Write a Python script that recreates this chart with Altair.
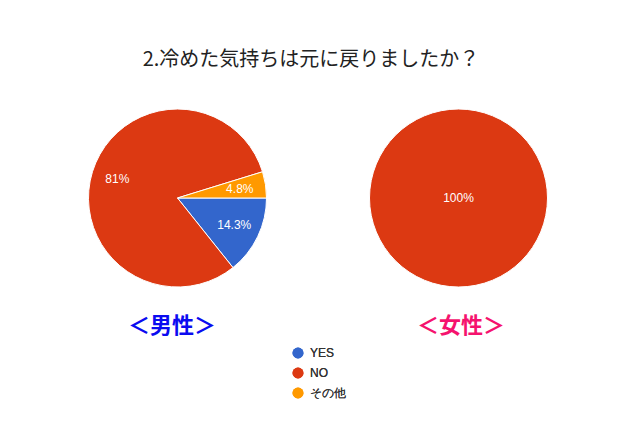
import math
import altair as alt
import pandas as pd

title_text = "2.冷めた気持ちは元に戻りましたか？"
categories = ["YES", "NO", "その他"]
colors = ["#3366CC", "#DC3912", "#FF9900"]
male_counts = [3, 17, 1]
female_counts = [0, 21, 0]
male_labels = ["14.3%", "81%", "4.8%"]
female_labels = ["", "100%", ""]
group_names = ["＜男性＞", "＜女性＞"]
group_colors = ["#0B0BF0", "#F5136E"]

rows = []
for gi, (counts, labels) in enumerate([(male_counts, male_labels), (female_counts, female_labels)]):
    total = sum(counts)
    for i, c in enumerate(categories):
        if counts[i] > 0:
            rows.append({"group": gi, "category": c, "order": i,
                         "frac": counts[i] / total, "label": labels[i]})
df = pd.DataFrame(rows)

FONT = "Liberation Sans"
JFONT = "Noto Sans CJK JP"
R = 89
centers = [(169.5, 190), (450.5, 190)]

theta_scale = alt.Scale(domain=[0, 1], range=[math.pi / 2, math.pi / 2 + 2 * math.pi])
color_enc = alt.Color(
    "category:N",
    scale=alt.Scale(domain=categories, range=colors),
    sort=categories,
    legend=alt.Legend(
        title=None, orient="none", legendX=284, legendY=339,
        symbolType="circle", symbolSize=120, symbolStrokeWidth=0,
        labelFont=FONT, labelFontSize=12, labelFontWeight=400,
        labelColor="#333333", rowPadding=8, labelOffset=6, padding=0,
    ),
)

base = alt.Chart(df)
layers = []
for gi in range(2):
    cx, cy = centers[gi]
    sub = base.transform_filter(alt.datum.group == gi)
    layers.append(
        sub.mark_arc(outerRadius=R, stroke="white", strokeWidth=1).encode(
            theta=alt.Theta("frac:Q", stack=True, scale=theta_scale),
            color=color_enc,
            order=alt.Order("order:O"),
            x=alt.value(cx), y=alt.value(cy),
        )
    )
# male labels
layers.append(
    base.transform_filter(alt.datum.group == 0).mark_text(
        radius=63, font=FONT, fontSize=12, color="white"
    ).encode(
        theta=alt.Theta("frac:Q", stack=True, scale=theta_scale),
        order=alt.Order("order:O"),
        text="label:N",
        x=alt.value(centers[0][0]), y=alt.value(centers[0][1]),
    )
)
# female label (single full slice, centered)
layers.append(
    base.transform_filter(alt.datum.group == 1).mark_text(
        font=FONT, fontSize=12, color="white"
    ).encode(
        text="label:N",
        x=alt.value(centers[1][0]), y=alt.value(centers[1][1]),
    )
)

title = alt.Chart(pd.DataFrame({"t": [title_text]})).mark_text(
    font=JFONT, fontSize=20, color="#222222"
).encode(text="t:N", x=alt.value(303), y=alt.value(52))

gdf = pd.DataFrame({"name": group_names, "color": group_colors, "i": [0, 1]})
glabels = []
for gi, xpos in enumerate([164, 453]):
    glabels.append(
        alt.Chart(gdf).transform_filter(alt.datum.i == gi).mark_text(
            font=JFONT, fontSize=22, fontWeight="bold"
        ).encode(
            text="name:N", color=alt.Color("color:N", scale=None),
            x=alt.value(xpos), y=alt.value(318),
        )
    )

chart = alt.layer(*layers, title, *glabels).properties(
    width=624, height=411, padding=0, autosize=alt.AutoSizeParams(type="none")
).configure_view(stroke=None).resolve_scale(color="independent")

chart.save("out.html", embed_options={"renderer": "svg", "actions": False})
